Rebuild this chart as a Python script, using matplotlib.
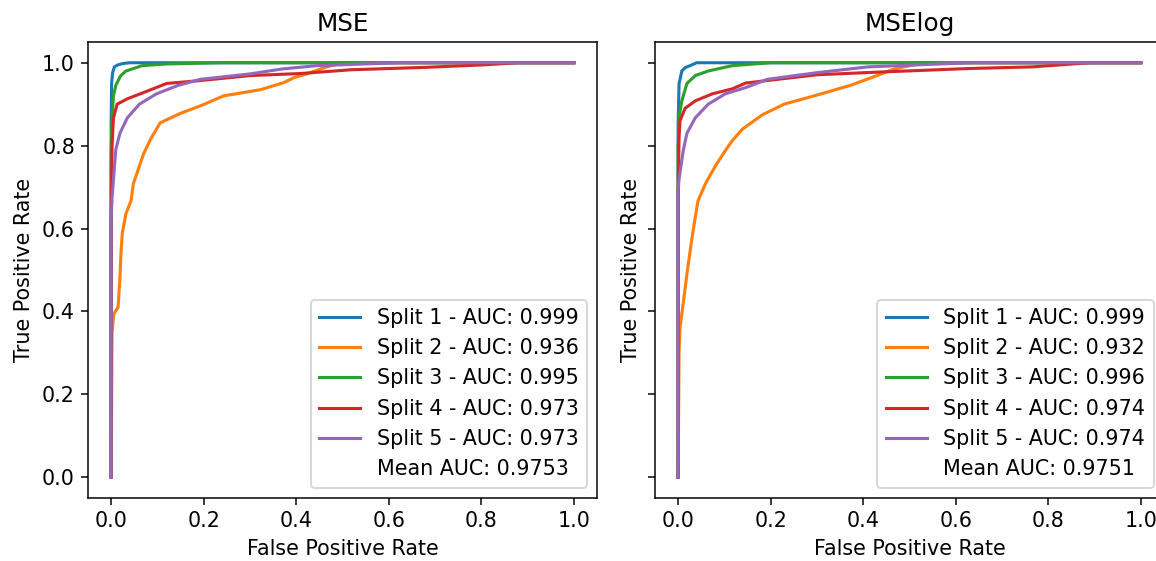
import matplotlib.pyplot as plt

# ROC points, panel "MSE"
mse_fpr_1 = [0, 0, 0.001, 0.003, 0.007, 0.015, 0.025, 0.04, 1.0]
mse_tpr_1 = [0, 0.85, 0.95, 0.975, 0.99, 0.995, 0.998, 1.0, 1.0]
mse_fpr_2 = [0, 0.002, 0.006, 0.015, 0.019, 0.021, 0.024, 0.032, 0.043, 0.048, 0.07, 0.085,
             0.106, 0.15, 0.193, 0.243, 0.323, 0.373, 0.395, 0.423, 0.46, 0.49, 0.55, 1.0]
mse_tpr_2 = [0, 0.35, 0.395, 0.41, 0.48, 0.535, 0.588, 0.636, 0.667, 0.708, 0.78, 0.815,
             0.855, 0.878, 0.896, 0.92, 0.935, 0.952, 0.964, 0.973, 0.988, 0.997, 1.0, 1.0]
mse_fpr_3 = [0, 0, 0.002, 0.005, 0.01, 0.02, 0.032, 0.067, 0.12, 0.24, 1.0]
mse_tpr_3 = [0, 0.78, 0.87, 0.92, 0.945, 0.968, 0.98, 0.993, 0.997, 1.0, 1.0]
mse_fpr_4 = [0, 0, 0.002, 0.005, 0.013, 0.035, 0.07, 0.12, 0.193, 0.30, 0.41, 0.518, 0.683, 0.807, 0.88, 1.0]
mse_tpr_4 = [0, 0.62, 0.80, 0.867, 0.90, 0.913, 0.928, 0.95, 0.957, 0.969, 0.974, 0.983, 0.989, 0.995, 1.0, 1.0]
mse_fpr_5 = [0, 0, 0.002, 0.01, 0.019, 0.035, 0.061, 0.098, 0.144, 0.193, 0.30, 0.37, 0.445, 0.625, 1.0]
mse_tpr_5 = [0, 0.62, 0.675, 0.79, 0.83, 0.867, 0.90, 0.925, 0.945, 0.96, 0.973, 0.985, 0.993, 1.0, 1.0]
mse_auc = [0.999, 0.936, 0.995, 0.973, 0.973]
mse_mean = 0.9753

# panel "MSElog"
log_fpr_1 = [0, 0, 0.002, 0.008, 0.015, 0.026, 0.04, 1.0]
log_tpr_1 = [0, 0.85, 0.95, 0.98, 0.988, 0.993, 1.0, 1.0]
log_fpr_2 = [0, 0.002, 0.004, 0.011, 0.019, 0.026, 0.033, 0.043, 0.059, 0.08, 0.102, 0.117,
             0.139, 0.183, 0.229, 0.30, 0.374, 0.432, 0.467, 0.51, 0.55, 1.0]
log_tpr_2 = [0, 0.30, 0.36, 0.42, 0.49, 0.547, 0.60, 0.667, 0.708, 0.75, 0.788, 0.812,
             0.84, 0.875, 0.90, 0.922, 0.946, 0.97, 0.985, 0.995, 1.0, 1.0]
log_fpr_3 = [0, 0, 0.002, 0.008, 0.019, 0.037, 0.065, 0.117, 0.2, 1.0]
log_tpr_3 = [0, 0.795, 0.87, 0.908, 0.95, 0.969, 0.98, 0.993, 1.0, 1.0]
log_fpr_4 = [0, 0, 0.002, 0.004, 0.015, 0.037, 0.074, 0.117, 0.146, 0.30, 0.446, 0.628, 0.765, 0.89, 1.0]
log_tpr_4 = [0, 0.684, 0.82, 0.86, 0.89, 0.908, 0.925, 0.937, 0.951, 0.971, 0.978, 0.986, 0.99, 1.0, 1.0]
log_fpr_5 = [0, 0, 0.002, 0.011, 0.019, 0.037, 0.065, 0.102, 0.146, 0.193, 0.30, 0.41, 0.52, 0.635, 1.0]
log_tpr_5 = [0, 0.69, 0.72, 0.788, 0.83, 0.867, 0.90, 0.925, 0.94, 0.96, 0.976, 0.99, 0.995, 1.0, 1.0]
log_auc = [0.999, 0.932, 0.996, 0.974, 0.974]
log_mean = 0.9751

panels = [
    ('MSE', [mse_fpr_1, mse_fpr_2, mse_fpr_3, mse_fpr_4, mse_fpr_5],
     [mse_tpr_1, mse_tpr_2, mse_tpr_3, mse_tpr_4, mse_tpr_5], mse_auc, mse_mean),
    ('MSElog', [log_fpr_1, log_fpr_2, log_fpr_3, log_fpr_4, log_fpr_5],
     [log_tpr_1, log_tpr_2, log_tpr_3, log_tpr_4, log_tpr_5], log_auc, log_mean),
]

plt.rcParams['font.size'] = 11
plt.rcParams['lines.linewidth'] = 1.65

dpi = 135
fig = plt.figure(figsize=(1156 / dpi, 561 / dpi), dpi=dpi)
ax1 = fig.add_axes([88 / 1156, 1 - 498 / 561, 509 / 1156, 456 / 561])
ax2 = fig.add_axes([655 / 1156, 1 - 498 / 561, 509 / 1156, 456 / 561], sharey=ax1)
ax2.tick_params(labelleft=False)

for ax, (title, fprs, tprs, aucs, mean) in zip([ax1, ax2], panels):
    for i in range(5):
        ax.plot(fprs[i], tprs[i], label='Split %d - AUC: %.3f' % (i + 1, aucs[i]))
    ax.plot([], [], ' ', label='Mean AUC: %.4f' % mean)
    ax.set_title(title)
    ax.set_xlabel('False Positive Rate')
    ax.set_ylabel('True Positive Rate')
    ax.legend(loc='lower right')

fig.savefig('out.png', dpi=dpi)
